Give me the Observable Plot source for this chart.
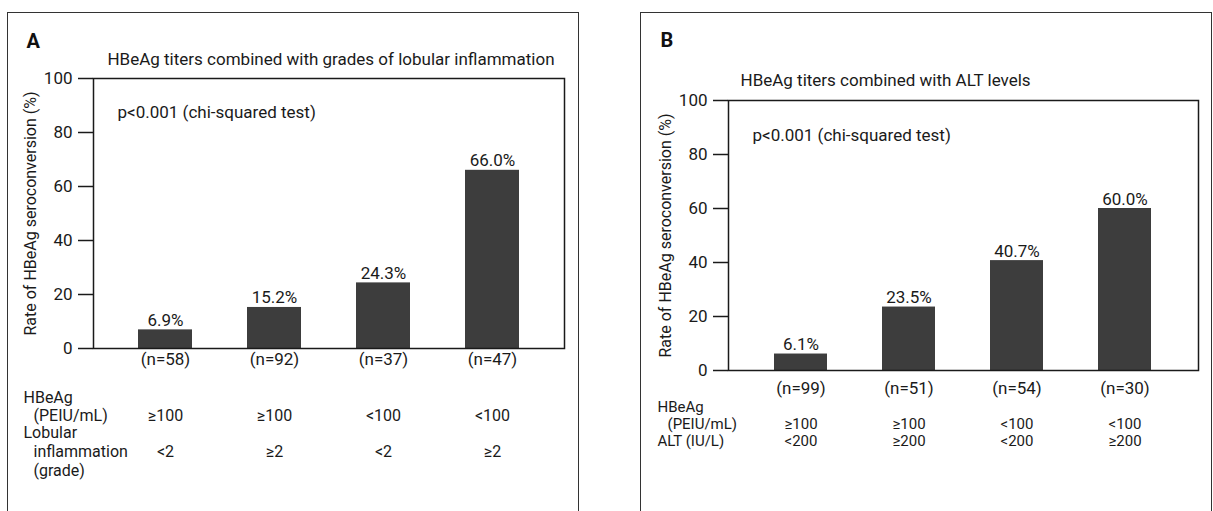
<!DOCTYPE html>
<html>
<head>
<meta charset="utf-8">
<script src="https://cdn.jsdelivr.net/npm/d3@7"></script>
<script src="https://cdn.jsdelivr.net/npm/@observablehq/plot@0.6"></script>
<style>
  html, body { margin: 0; padding: 0; background: #fff; }
  #root { position: relative; width: 1213px; height: 511px; overflow: hidden; }
  .panel { position: absolute; top: 12px; width: 570px; height: 520px; border: 1px solid #333; box-sizing: content-box; }
  .panel svg { display: block; }
</style>
</head>
<body>
<div id="root">
  <div class="panel" id="pa" style="left:7px"></div>
  <div class="panel" id="pb" style="left:640px"></div>
</div>
<script>
// ---------- data ----------
const groups = ["G1", "G2", "G3", "G4"];

const titleA = "HBeAg titers combined with grades of lobular inflammation";
const ratesA = [6.9, 15.2, 24.3, 66.0];
const nA = [58, 92, 37, 47];
const hbeagA = ["≥100", "≥100", "<100", "<100"];
const lobularA = ["<2", "≥2", "<2", "≥2"];

const titleB = "HBeAg titers combined with ALT levels";
const ratesB = [6.1, 23.5, 40.7, 60.0];
const nB = [99, 51, 54, 30];
const hbeagB = ["≥100", "≥100", "<100", "<100"];
const altB = ["<200", "≥200", "<200", "≥200"];

const yTicks = [0, 20, 40, 60, 80, 100];
const yLabel = "Rate of HBeAg seroconversion (%)";
const pText = "p<0.001 (chi-squared test)";

const FONT = "Roboto, 'Liberation Sans', sans-serif";
const INK = "#1a1a1a";
const BAR = "#3d3d3d";

function panel(cfg) {
  const rows = groups.map((g, i) => ({
    g,
    rate: cfg.rates[i],
    label: cfg.rates[i].toFixed(1) + "%",
    n: "(n=" + cfg.n[i] + ")",
    r1: cfg.row1[i],
    r2: cfg.row2[i]
  }));
  const one = (s) => [s];
  const FS = 17;
  const marks = [
    Plot.barY(rows, {x: "g", y: "rate", fill: BAR}),
    Plot.frame({stroke: INK, strokeWidth: 1.5}),
    Plot.axisY({ticks: yTicks, tickSize: 15, tickPadding: 6, label: null, stroke: INK, strokeWidth: 1.5, fontSize: FS}),
    Plot.text(rows, {x: "g", y: "rate", text: "label", lineAnchor: "bottom", dy: -4, fontSize: FS, fill: INK}),
    Plot.text(rows, {x: "g", text: "n", frameAnchor: "bottom", lineAnchor: "bottom", dy: cfg.nDy, fontSize: FS, fill: INK}),
    Plot.text(rows, {x: "g", text: "r1", frameAnchor: "bottom", lineAnchor: "bottom", dy: cfg.r1Dy, fontSize: cfg.rowFs, fill: INK}),
    Plot.text(rows, {x: "g", text: "r2", frameAnchor: "bottom", lineAnchor: "bottom", dy: cfg.r2Dy, fontSize: cfg.rowFs, fill: INK}),
    Plot.text(one(yLabel), {text: d => d, frameAnchor: "left", textAnchor: "middle", lineAnchor: "middle", rotate: -90, dx: -63, fontSize: 16, fill: INK}),
    Plot.text(one(pText), {text: d => d, frameAnchor: "top-left", textAnchor: "start", lineAnchor: "bottom", dx: 24, dy: cfg.pDy, fontSize: FS, fill: INK}),
    Plot.text(one(cfg.letter), {text: d => d, frameAnchor: "top-left", textAnchor: "start", lineAnchor: "bottom", dx: cfg.letterDx, dy: cfg.letterDy, fontSize: 20, fontWeight: "bold", fill: "#111"}),
    Plot.text(one(cfg.title), {text: d => d, frameAnchor: cfg.titleAnchor, textAnchor: cfg.titleTextAnchor, lineAnchor: "bottom", dx: cfg.titleDx, dy: cfg.titleDy, fontSize: FS, fill: INK})
  ];
  for (const L of cfg.leftLabels) {
    marks.push(Plot.text(one(L.t), {text: d => d, frameAnchor: "bottom-left", textAnchor: "start", lineAnchor: "bottom", dx: L.dx, dy: L.dy, fontSize: cfg.rowFs, fill: INK}));
  }
  return Plot.plot({
    width: 570,
    height: 498,
    marginLeft: cfg.ml,
    marginRight: cfg.mr,
    marginTop: cfg.mt,
    marginBottom: cfg.mb,
    style: {fontFamily: FONT, fontSize: "17px", color: INK, background: "transparent"},
    x: {domain: groups, paddingInner: 0.506, paddingOuter: 0.41, axis: null},
    y: {domain: [0, 100], axis: null},
    marks
  });
}

document.getElementById("pa").appendChild(panel({
  letter: "A", title: titleA, rates: ratesA, n: nA, row1: hbeagA, row2: lobularA,
  ml: 85, mr: 14, mt: 65, mb: 163, rowFs: 16,
  nDy: 16, r1Dy: 72, r2Dy: 108, pDy: 39,
  letterDx: -67, letterDy: -31,
  titleAnchor: "top", titleTextAnchor: "middle", titleDx: 2, titleDy: -14,
  leftLabels: [
    {t: "HBeAg", dx: -70, dy: 54},
    {t: "(PEIU/mL)", dx: -60, dy: 72},
    {t: "Lobular", dx: -70, dy: 89},
    {t: "inflammation", dx: -60, dy: 108},
    {t: "(grade)", dx: -60, dy: 127}
  ]
}));

document.getElementById("pb").appendChild(panel({
  letter: "B", title: titleB, rates: ratesB, n: nB, row1: hbeagB, row2: altB,
  ml: 87, mr: 13, mt: 87, mb: 141, rowFs: 15,
  nDy: 23, r1Dy: 58, r2Dy: 75, pDy: 40,
  letterDx: -68, letterDy: -54,
  titleAnchor: "top-left", titleTextAnchor: "start", titleDx: 12, titleDy: -15,
  leftLabels: [
    {t: "HBeAg", dx: -71, dy: 41},
    {t: "(PEIU/mL)", dx: -61, dy: 58},
    {t: "ALT (IU/L)", dx: -71, dy: 75}
  ]
}));
</script>
</body>
</html>
